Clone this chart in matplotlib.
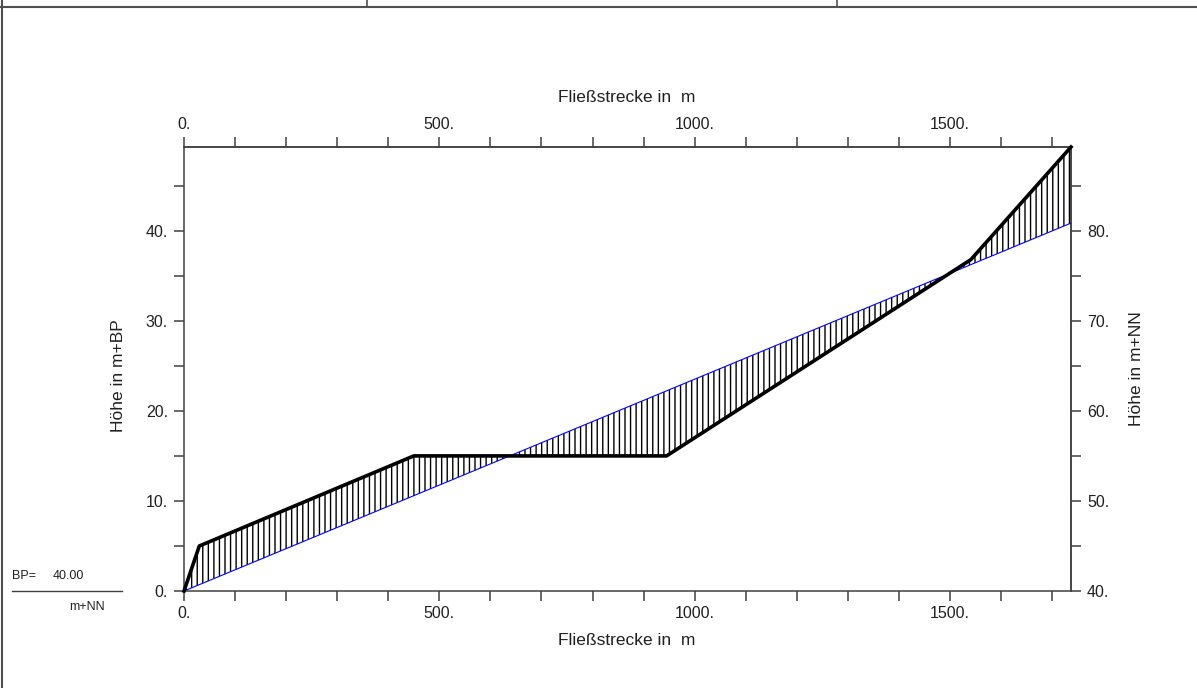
import numpy as np
import matplotlib
matplotlib.use("Agg")
import matplotlib.pyplot as plt
from matplotlib.ticker import MultipleLocator, FixedLocator, FuncFormatter
from matplotlib.lines import Line2D

plt.rcParams['font.family'] = ['Liberation Sans', 'DejaVu Sans']
plt.rcParams['hatch.linewidth'] = 1.0

# profile data (distance in m, height in m+BP)
dist = [0, 30, 450, 945, 1541, 1737]
height = [0, 5.0, 15.0, 15.0, 36.8, 49.3]
# reference line (blue)
ref_dist = [0, 1737]
ref_height = [0, 40.85]

bp = 40.0  # BP in m+NN
xmax = 1737
ymax = 49.3
x_major = [0, 500, 1000, 1500]
y_major = [0, 10, 20, 30, 40]
y_major_nn = [40, 50, 60, 70, 80]

axis_col = '#404040'
txt_col = '#202020'
fs = 11.5
fs_lab = 12.5

fig = plt.figure(figsize=(11.97, 6.88), dpi=100)
ax = fig.add_axes([184 / 1197, 1 - 591 / 688, 887 / 1197, 444 / 688])

# hatched area between profile and reference line
ax.fill(np.r_[dist, ref_dist[::-1]], np.r_[height, ref_height[::-1]],
        facecolor='none', edgecolor='black', linewidth=0, hatch='|||')
ax.plot(ref_dist, ref_height, color='#0000ff', lw=0.8, zorder=3)
ax.plot(dist, height, color='black', lw=2.6, zorder=4, clip_on=False,
        solid_joinstyle='round')

ax.set_xlim(0, xmax)
ax.set_ylim(0, ymax)

fmt = FuncFormatter(lambda v, p: f"{v:.0f}.")
ax.xaxis.set_major_locator(FixedLocator(x_major))
ax.xaxis.set_minor_locator(MultipleLocator(100))
ax.xaxis.set_major_formatter(fmt)
ax.yaxis.set_major_locator(FixedLocator(y_major))
ax.yaxis.set_minor_locator(MultipleLocator(5))
ax.yaxis.set_major_formatter(fmt)

for s in ax.spines.values():
    s.set_color(axis_col)
    s.set_linewidth(1.1)

ax.tick_params(which='both', direction='out', length=7.5, width=1.1,
               color=axis_col, labelsize=fs, labelcolor=txt_col)
ax.tick_params(axis='x', which='both', pad=3)
ax.tick_params(axis='y', which='both', pad=4)

# top axis
top = ax.secondary_xaxis('top')
top.xaxis.set_major_locator(FixedLocator(x_major))
top.xaxis.set_minor_locator(MultipleLocator(100))
top.xaxis.set_major_formatter(fmt)
top.tick_params(which='both', direction='out', length=7.5, width=1.1,
                color=axis_col, labelsize=fs, labelcolor=txt_col, pad=3)
top.spines['top'].set_color(axis_col)
top.spines['top'].set_linewidth(1.1)

# right axis in m+NN
right = ax.secondary_yaxis('right', functions=(lambda y: y + bp, lambda y: y - bp))
right.yaxis.set_major_locator(FixedLocator(y_major_nn))
right.yaxis.set_minor_locator(MultipleLocator(5))
right.yaxis.set_major_formatter(fmt)
right.tick_params(which='both', direction='out', length=7.5, width=1.1,
                  color=axis_col, labelsize=fs, labelcolor=txt_col, pad=4)
right.spines['right'].set_color(axis_col)
right.spines['right'].set_linewidth(1.1)

# axis titles
ax.text(0.4994, 1.1126, 'Fließstrecke in  m', transform=ax.transAxes,
        ha='center', va='center', fontsize=fs_lab, color=txt_col)
ax.text(0.4994, -0.1126, 'Fließstrecke in  m', transform=ax.transAxes,
        ha='center', va='center', fontsize=fs_lab, color=txt_col)
ax.text(-0.0744, 0.485, 'Höhe in m+BP', transform=ax.transAxes, rotation=90,
        ha='center', va='center', fontsize=fs_lab, color=txt_col)
ax.text(1.0744, 0.5, 'Höhe in m+NN', transform=ax.transAxes, rotation=90,
        ha='center', va='center', fontsize=fs_lab, color=txt_col)

# BP note bottom left
fig.text(12 / 1197, 1 - 576 / 688, 'BP=', fontsize=9, va='center', color=txt_col)
fig.text(53 / 1197, 1 - 576 / 688, f'{bp:.2f}', fontsize=9, va='center', color=txt_col)
fig.add_artist(Line2D([12 / 1197, 122 / 1197], [1 - 591 / 688, 1 - 591 / 688],
                      color=axis_col, lw=1.0))
fig.text(69 / 1197, 1 - 607 / 688, 'm+NN', fontsize=9, va='center', color=txt_col)

# page frame
frame_col = '#505050'
fig.add_artist(Line2D([2 / 1197, 2 / 1197], [0, 1], color=frame_col, lw=1.5))
fig.add_artist(Line2D([0, 1], [1 - 6.5 / 688, 1 - 6.5 / 688], color=frame_col, lw=1.5))
for xs in [367, 837]:
    fig.add_artist(Line2D([xs / 1197, xs / 1197], [1 - 6.5 / 688, 1],
                          color=frame_col, lw=1.2))

fig.savefig('out.png', dpi=100)
